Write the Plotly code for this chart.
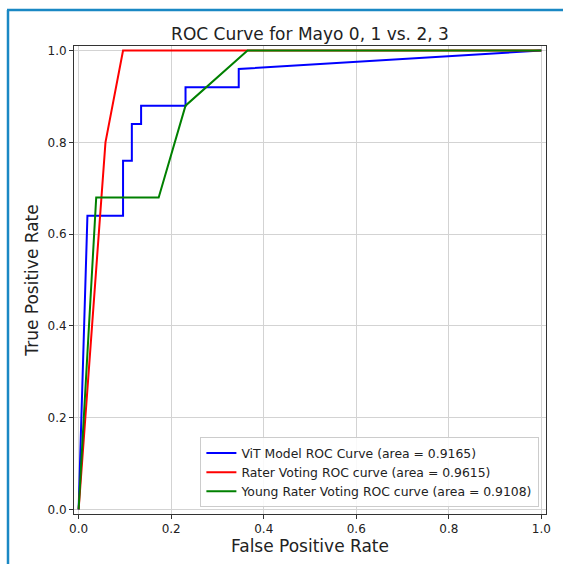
import plotly.graph_objects as go

# Data
vit_fpr = [0, 0.019, 0.096, 0.096, 0.115, 0.115, 0.135, 0.135, 0.231, 0.231, 0.346, 0.346, 1.0]
vit_tpr = [0, 0.64, 0.64, 0.76, 0.76, 0.84, 0.84, 0.88, 0.88, 0.92, 0.92, 0.96, 1.0]
rater_fpr = [0, 0.058, 0.096, 1.0]
rater_tpr = [0, 0.80, 1.0, 1.0]
young_fpr = [0, 0.038, 0.173, 0.231, 0.365, 1.0]
young_tpr = [0, 0.68, 0.68, 0.88, 1.0, 1.0]
labels = ["ViT Model ROC Curve (area = 0.9165)",
          "Rater Voting ROC curve (area = 0.9615)",
          "Young Rater Voting ROC curve (area = 0.9108)"]
tick_vals = [0.0, 0.2, 0.4, 0.6, 0.8, 1.0]
tick_text = ["0.0", "0.2", "0.4", "0.6", "0.8", "1.0"]

FONT = "DejaVu Sans"
fig = go.Figure()
for xs, ys, name, col in [(vit_fpr, vit_tpr, labels[0], "#0000ff"),
                          (rater_fpr, rater_tpr, labels[1], "#ff0000"),
                          (young_fpr, young_tpr, labels[2], "#008000")]:
    fig.add_trace(go.Scatter(x=xs, y=ys, mode="lines", name=name,
                             line=dict(color=col, width=2)))

L, R, T, B = 74, 17, 46, 50
W, H = 563, 564
pw, ph = W - L - R, H - T - B

axis_common = dict(
    range=[-0.01, 1.01], tickvals=tick_vals, ticktext=tick_text,
    showgrid=True, gridcolor="#d3d3d3", gridwidth=1,
    showline=True, mirror=True, linecolor="#333333", linewidth=1,
    ticks="outside", ticklen=4, tickcolor="#333333",
    tickfont=dict(family=FONT, size=12, color="#222222"),
    zeroline=False, automargin=False,
)

fig.update_layout(
    width=W, height=H,
    margin=dict(l=L, r=R, t=T, b=B, autoexpand=False),
    paper_bgcolor="white", plot_bgcolor="white",
    font=dict(family=FONT, color="#222222"),
    title=dict(text="ROC Curve for Mayo 0, 1 vs. 2, 3", x=310 / W, xanchor="center",
               y=1 - 34 / H, yanchor="middle", yref="container",
               font=dict(family=FONT, size=17, color="#222222")),
    xaxis=dict(axis_common, title=dict(text="False Positive Rate", standoff=4,
                                       font=dict(family=FONT, size=17, color="#222222"))),
    yaxis=dict(axis_common, title=dict(text="True Positive Rate", standoff=4,
                                       font=dict(family=FONT, size=17, color="#222222"))),
    legend=dict(x=0.986, xanchor="right", y=0.014, yanchor="bottom",
                bgcolor="rgba(255,255,255,0.85)", bordercolor="#cccccc", borderwidth=1,
                font=dict(family=FONT, size=12.4, color="#222222"),
                tracegroupgap=0, itemwidth=30),
    showlegend=True,
)

# Blue frame border around the figure (left and top edges)
def px2x(p):
    return (p - L) / pw

def py2y(p):
    return 1 - (p - T) / ph

border = "#1a88c4"
fig.add_shape(type="line", xref="paper", yref="paper",
              x0=px2x(8), x1=px2x(8), y0=py2y(10), y1=py2y(H + 5),
              line=dict(color=border, width=2.5))
fig.add_shape(type="line", xref="paper", yref="paper",
              x0=px2x(7), x1=px2x(W + 5), y0=py2y(10), y1=py2y(10),
              line=dict(color=border, width=2.5))

fig.write_html("out.html")
